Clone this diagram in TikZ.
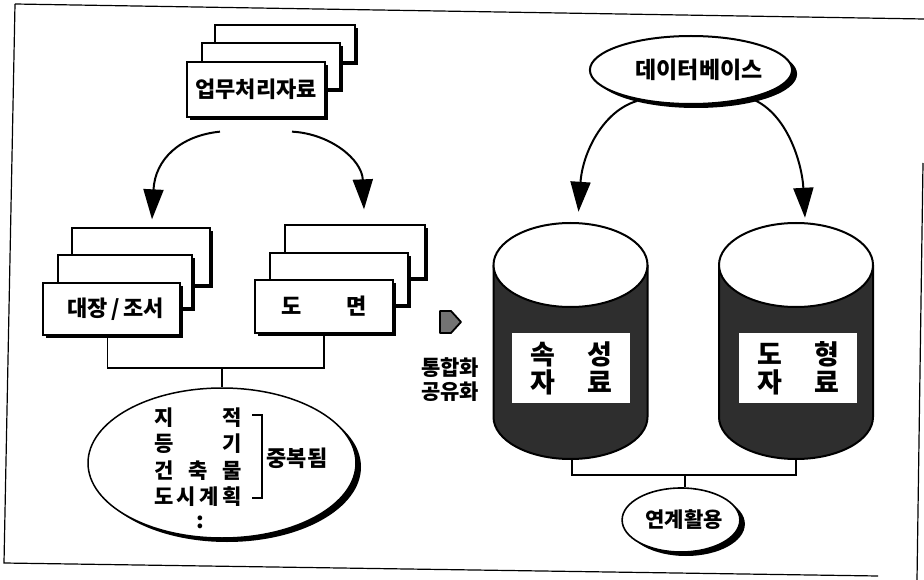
\documentclass[tikz,border=0pt]{standalone}
\usepackage{fontspec}
\setmainfont{Noto Sans CJK KR}
\usetikzlibrary{shapes.geometric,arrows.meta,shadows,calc}
\newcommand\drawcyl[1]{%
  \fill[cylbody] (#1-77,265) rectangle (#1+77,417);
  \fill[cylbody] (#1,417) ellipse [x radius=77, y radius=42];
  \draw[cylline] (#1-77,265) -- (#1-77,417) arc[start angle=180, end angle=0, x radius=77, y radius=42] -- (#1+77,265);
  \filldraw[cylline, fill=white] (#1,265) ellipse [x radius=77, y radius=42];
}
\begin{document}
\begin{tikzpicture}[x=1pt,y=-1pt,
  paper/.style={draw, line width=1.3pt, fill=white, inner sep=0pt,
    drop shadow={shadow xshift=3pt, shadow yshift=-3pt, opacity=1, fill=black}},
  lbl/.style={font=\bfseries\fontsize{22}{25}\selectfont},
  oval/.style={ellipse, draw, line width=1.6pt, fill=white, inner sep=0pt,
    drop shadow={shadow xshift=5pt, shadow yshift=-4pt, opacity=1, fill=black}},
  arr/.style={line width=2pt, -{Triangle[length=30pt,width=20pt]}},
  conn/.style={line width=1.3pt},
  frame/.style={line width=1.2pt},
  cylbody/.style={fill=black!82},
  cylline/.style={line width=2pt},
  labelbox/.style={fill=white, inner sep=0pt, minimum width=118pt, minimum height=70pt,
    font=\bfseries\fontsize{27}{28}\selectfont, align=center},
  helper/.style={inner sep=0pt, minimum width=154pt, minimum height=236pt}
]
\useasboundingbox (0,0) rectangle (924,580);
\fill[white] (0,0) rectangle (924,580);

% frame
\draw[frame] (15,4) -- (924,19);
\draw[frame] (15,4) -- (4,563) -- (878,576);
\draw[frame] (923,163) -- (917,580);

% top stack
\node[paper, minimum width=140pt, minimum height=37pt] (tback) at (285,43.5) {};
\node[paper, minimum width=138pt, minimum height=46pt] (tmid) at (271,66) {};
\node[paper, minimum width=138pt, minimum height=55pt, lbl] (work) at (256,89.5) {업무처리자료};

% left stack
\node[paper, minimum width=138pt, minimum height=57pt] (lback) at (141,256.5) {};
\node[paper, minimum width=134pt, minimum height=53pt] (lmid) at (125,281.5) {};
\node[paper, minimum width=137pt, minimum height=52pt, lbl] (ledger) at (111.5,309) {\hspace{8pt}대장\,/\,조서};

% right stack
\node[paper, minimum width=140pt, minimum height=53pt] (rback) at (355,251.5) {};
\node[paper, minimum width=138pt, minimum height=52pt] (rmid) at (339,279) {};
\node[paper, minimum width=138pt, minimum height=53pt, lbl] (drawing) at (324,306.5) {도\hspace{44pt}면};

% arrows from top stack
\draw[arr] ($(work.south)+(-36,14)$) .. controls ($(work.south)+(-76,18)$) and ($(lback.north)+(14,-68)$) .. ($(lback.north)+(11,-8)$);
\draw[arr] ($(work.south)+(36,14)$) .. controls ($(work.south)+(74,16)$) and ($(rback.north)+(7,-65)$) .. ($(rback.north)+(9,-15)$);

% duplicated ellipse
\node[oval, line width=1.5pt, minimum width=268pt, minimum height=150pt] (dup) at (222,463) {};
\coordinate (j1) at (222,368);
\draw[conn] ($(ledger.south)+(-4,0)$) |- (j1) -| (drawing.south);
\draw[conn] (j1) -- (dup.north);

\node[lbl, font=\bfseries\fontsize{21}{26.5}\selectfont, align=left, inner sep=0pt] (duptext) at (198,457) {%
  \makebox[88pt][s]{지\hfill 적}\\
  \makebox[88pt][s]{등\hfill 기}\\
  \makebox[88pt][s]{건\hfill 축\hfill 물}\\
  \makebox[88pt][s]{도\hfill 시\hfill 계\hfill 획}};
\node[font=\bfseries\fontsize{22}{24}\selectfont, inner sep=0pt] (dots) at (200,522) {:};
\draw[conn] (252,415) -- (262,415) -- (262,498) -- (252,498);
\node[lbl, inner sep=0pt] (dupl) at (297,458) {중복됨};

% transition symbol and label
\filldraw[fill=black!55, line width=1.8pt, line join=round] (440,311) -- (451,311) -- (461,322) -- (451,333) -- (440,333) -- cycle;
\node[lbl, font=\bfseries\fontsize{21}{24}\selectfont, align=center, inner sep=0pt] (integ) at (450,380) {통합화\\공유화};

% database ellipse
\node[oval, line width=2pt, minimum width=178pt, minimum height=68pt, lbl, font=\bfseries\fontsize{23}{26}\selectfont] (db) at (691,70) {\hspace{16pt}데이터베이스};

% cylinders
\drawcyl{570.5}
\drawcyl{796}
\node[helper] (attrcyl) at (570.5,341) {};
\node[helper] (graphcyl) at (796,341) {};
\node[labelbox] (attr) at (571,368) {속\hspace{32pt}성\\자\hspace{32pt}료};
\node[labelbox] (graph) at (798,368) {도\hspace{32pt}형\\자\hspace{32pt}료};

% arrows from database
\draw[arr] ($(db.south)+(-54,-4)$) .. controls ($(db.south)+(-88,6)$) and ($(attrcyl.north)+(12,-70)$) .. ($(attrcyl.north)+(8,-11)$);
\draw[arr] ($(db.south)+(61,-6)$) .. controls ($(db.south)+(96,8)$) and ($(graphcyl.north)+(6,-60)$) .. ($(graphcyl.north)+(9,-5)$);

% linked use
\node[oval, minimum width=94pt, minimum height=64pt, lbl, font=\bfseries\fontsize{21}{24}\selectfont] (link) at (681,520) {\hspace{6pt}연계활용};
\coordinate (j2) at (685,475);
\draw[conn] ($(attrcyl.south)+(1.5,0)$) |- (j2) -| (graphcyl.south);
\draw[conn] (j2) -- (link.north -| j2);
\end{tikzpicture}
\end{document}
